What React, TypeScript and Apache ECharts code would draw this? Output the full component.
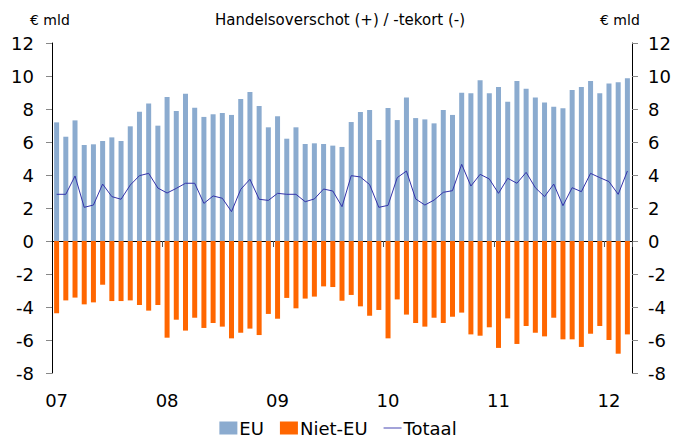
import React, { useEffect, useRef } from "react";
import * as echarts from "echarts";

const years = ["07", "08", "09", "10", "11", "12"];
const monthCount = 63;
const categories: string[] = [];
for (let i = 0; i < monthCount; i++) {
  categories.push(years[Math.floor(i / 12)] + "-" + String((i % 12) + 1).padStart(2, "0"));
}

const eu = [
  7.19, 6.32, 7.31, 5.82, 5.86, 6.06, 6.28, 6.06, 6.95, 7.84, 8.34, 6.99,
  8.73, 7.88, 8.93, 8.08, 7.52, 7.68, 7.76, 7.64, 8.61, 9.03, 8.18, 6.89,
  7.56, 6.2, 6.89, 5.88, 5.92, 5.88, 5.78, 5.7, 7.21, 7.82, 7.94, 6.12,
  8.06, 7.33, 8.69, 7.45, 7.37, 7.13, 7.94, 7.64, 8.99, 8.95, 9.74, 8.95,
  9.33, 8.44, 9.7, 9.23, 8.69, 8.4, 8.14, 8.04, 9.15, 9.33, 9.7, 8.95,
  9.54, 9.62, 9.86,
];

const nietEu = [
  -4.38, -3.6, -3.43, -3.84, -3.72, -2.65, -3.64, -3.64, -3.6, -3.88, -4.22, -3.88,
  -5.86, -4.77, -5.43, -4.65, -5.27, -4.97, -5.19, -5.9, -5.56, -5.31, -5.7, -4.42,
  -4.71, -3.45, -4.08, -3.49, -3.37, -2.75, -2.79, -3.62, -3.27, -3.96, -4.53, -4.18,
  -5.9, -3.54, -4.46, -4.97, -5.19, -4.65, -4.97, -4.59, -4.34, -5.66, -5.74, -5.23,
  -6.48, -4.69, -6.24, -5.15, -5.56, -5.78, -4.65, -5.96, -5.96, -6.42, -5.62, -5.15,
  -6.0, -6.83, -5.66,
];

const totaal = [
  2.83, 2.83, 3.94, 2.04, 2.18, 3.45, 2.69, 2.53, 3.39, 3.96, 4.1, 3.21,
  2.91, 3.19, 3.5, 3.5, 2.28, 2.73, 2.59, 1.78, 3.13, 3.74, 2.53, 2.46,
  2.89, 2.83, 2.83, 2.38, 2.55, 3.15, 3.03, 2.08, 3.96, 3.88, 3.42, 2.04,
  2.16, 3.84, 4.24, 2.55, 2.18, 2.48, 2.95, 3.05, 4.65, 3.33, 4.04, 3.76,
  2.89, 3.8, 3.5, 4.16, 3.23, 2.69, 3.45, 2.14, 3.23, 2.99, 4.1, 3.84,
  3.6, 2.83, 4.24,
];

const FONT = "DejaVu Sans";

export default function App() {
  const ref = useRef<HTMLDivElement>(null);
  useEffect(() => {
    if (!ref.current) return;
    const chart = echarts.init(ref.current, undefined, { renderer: "svg" });
    const yAxisBase = {
      type: "value",
      min: -8,
      max: 12,
      interval: 2,
      splitLine: { show: false },
      axisLine: { show: true, lineStyle: { color: "#000", width: 1 } },
      axisTick: { show: true, length: 6, lineStyle: { color: "#888" } },
    };
    chart.setOption({
      animation: false,
      backgroundColor: "#fff",
      textStyle: { fontFamily: FONT },
      grid: { left: 52, right: 44, top: 43, bottom: 67, containLabel: false, outerBoundsMode: "none" },
      graphic: [
        { type: "text", left: 30, top: 13, style: { text: "€ mld", font: `14px '${FONT}'`, fill: "#000" } },
        { type: "text", left: 600, top: 13, style: { text: "€ mld", font: `14px '${FONT}'`, fill: "#000" } },
        {
          type: "text",
          x: 340,
          y: 12,
          style: { text: "Handelsoverschot (+) / -tekort (-)", font: `15px '${FONT}'`, fill: "#000", textAlign: "center" },
        },
      ],
      legend: {
        top: 419,
        left: "center",
        padding: 0,
        itemGap: 16,
        itemWidth: 18,
        itemHeight: 13,
        textStyle: { fontSize: 18, lineHeight: 18, fontFamily: FONT, color: "#000", padding: [0, 0, 0, -3] },
        data: [
          { name: "EU", icon: "rect" },
          { name: "Niet-EU", icon: "rect" },
          { name: "Totaal", icon: "path://M0,0L40,0L40,2L0,2Z", itemStyle: { color: "#3333aa" } },
        ],
      },
      xAxis: {
        type: "category",
        data: categories,
        boundaryGap: true,
        axisLine: { onZero: true, lineStyle: { color: "#000", width: 1.2 } },
        axisTick: {
          show: true,
          length: 6,
          interval: (index: number) => index % 12 === 0 && index > 0,
          lineStyle: { color: "#555" },
        },
        axisLabel: {
          interval: (index: number) => index % 12 === 0,
          formatter: (_v: string, index: number) => years[Math.floor(index / 12)],
          margin: 18,
          fontSize: 18,
          color: "#000",
          fontFamily: FONT,
        },
        splitLine: { show: false },
      },
      yAxis: [
        {
          ...yAxisBase,
          position: "left",
          axisLabel: { fontSize: 18, color: "#000", margin: 18, fontFamily: FONT },
        },
        {
          ...yAxisBase,
          position: "right",
          axisLabel: { fontSize: 18, color: "#000", margin: 16, fontFamily: FONT },
        },
      ],
      series: [
        {
          name: "EU",
          type: "bar",
          stack: "total",
          data: eu,
          barWidth: 5,
          itemStyle: { color: "#8babcf" },
        },
        {
          name: "Niet-EU",
          type: "bar",
          stack: "total",
          data: nietEu,
          barWidth: 5,
          itemStyle: { color: "#ff6600" },
        },
        {
          name: "Totaal",
          type: "line",
          data: totaal,
          symbol: "none",
          z: 5,
          lineStyle: { color: "#3333aa", width: 1 },
          itemStyle: { color: "#3333aa" },
        },
      ],
    });
    return () => chart.dispose();
  }, []);
  return <div ref={ref} style={{ width: 676, height: 440, position: "absolute", left: 0, top: 0 }} />;
}
